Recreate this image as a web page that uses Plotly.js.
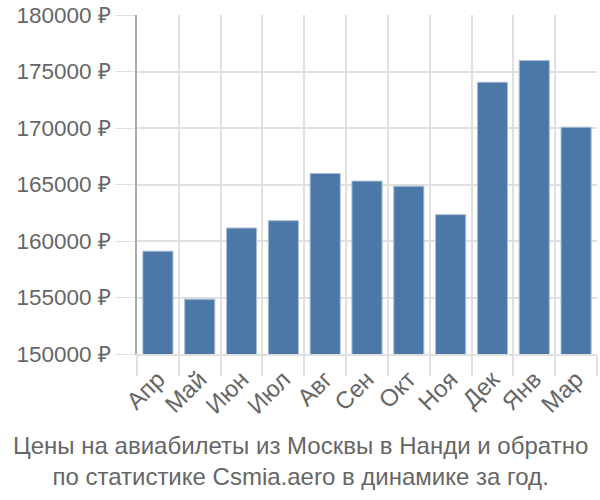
<!DOCTYPE html>
<html><head><meta charset="utf-8">
<script src="https://cdn.plot.ly/plotly-3.0.1.min.js"></script>
<style>body{margin:0;}#c{width:600px;height:500px;}</style>
</head><body><div id="c"></div>
<script>
const months = ["Апр","Май","Июн","Июл","Авг","Сен","Окт","Ноя","Дек","Янв","Мар"];
const prices = [159100, 154850, 161150, 161800, 165980, 165300, 164850, 162330, 174050, 175980, 170070];
const yTicks = [150000,155000,160000,165000,170000,175000,180000];
const yTickText = ["150000 ₽","155000 ₽","160000 ₽","165000 ₽","170000 ₽","175000 ₽","180000 ₽"];
const titleText = "Цены на авиабилеты из Москвы в Нанди и обратно<br>по статистике Csmia.aero в динамике за год.";

Plotly.newPlot("c", [{
  type: "bar", x: months, y: prices,
  marker: {color: "#4c78a8", line: {color: "#a9bdd6", width: 1}},
  hoverinfo: "none"
}], {
  width: 600, height: 500,
  margin: {l: 137, r: 3, t: 15, b: 146},
  bargap: 0.28,
  font: {family: "Liberation Sans, Arial, sans-serif", color: "#666"},
  xaxis: {type: "category", tickson: "boundaries", showgrid: true, gridcolor: "#e0e0e0", gridwidth: 1.5,
          ticks: "outside", ticklen: 20, tickcolor: "#e0e0e0", tickwidth: 1.5,
          showline: true, linecolor: "#e0e0e0", linewidth: 1.5,
          tickangle: -45, tickfont: {size: 24, color: "#666"}},
  yaxis: {range: [150000, 180000], tickmode: "array", tickvals: yTicks, ticktext: yTickText,
          showgrid: true, gridcolor: "#e0e0e0", gridwidth: 1.5,
          ticks: "outside", ticklen: 20, tickcolor: "#e0e0e0",
          showline: true, linecolor: "#aaaaaa", linewidth: 1.5,
          tickfont: {size: 22.5, color: "#666"}, zeroline: false},
  annotations: [{text: titleText, xref: "paper", yref: "paper", x: 0.5, xanchor: "center",
                 y: -0.225, yanchor: "top", showarrow: false, font: {size: 24, color: "#666"}, xshift: -67}],
  showlegend: false, plot_bgcolor: "#fff", paper_bgcolor: "#fff"
}, {displayModeBar: false});
</script></body></html>
